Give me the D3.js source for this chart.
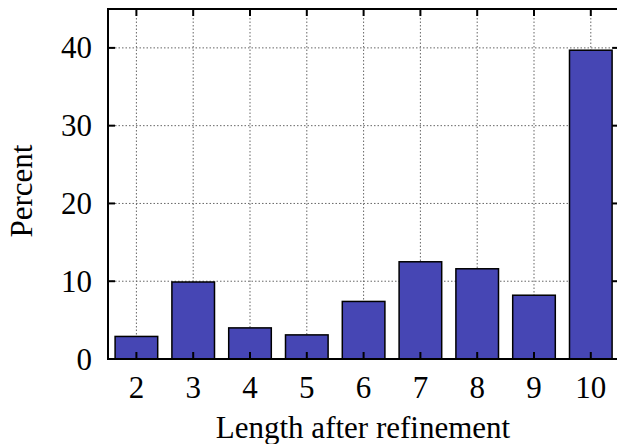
<!DOCTYPE html>
<html>
<head>
<meta charset="utf-8">
<script src="https://cdn.jsdelivr.net/npm/d3@7"></script>
<style>
  body { margin: 0; background: #fff; }
  svg text { font-family: "Liberation Serif", "DejaVu Serif", serif; fill: #000; }
</style>
</head>
<body>
<div id="chart"></div>
<script>
// values
const lengths = [2, 3, 4, 5, 6, 7, 8, 9, 10];
const percents = [2.9, 9.9, 4.0, 3.1, 7.4, 12.5, 11.6, 8.2, 39.7];
const yTicks = [0, 10, 20, 30, 40];

const W = 617, H = 444;
// frame runs past the right edge of the picture, like the original
const margin = { top: 9, left: 108, bottom: 85 };

const svg = d3.select('#chart').append('svg')
  .attr('width', W)
  .attr('height', H);

const x = d3.scaleLinear().domain([1.5, 10.5]).range([margin.left, margin.left + 9 * 56.8]);
const y = d3.scaleLinear().domain([0, 45]).range([H - margin.bottom, margin.top]);

const x0 = x.range()[0], x1 = x.range()[1];
const y0 = y.range()[0], y1 = y.range()[1];

// dotted grid
const grid = svg.append('g').attr('stroke', '#666').attr('stroke-width', 1)
  .attr('stroke-dasharray', '1.5,2');
grid.selectAll('.gx').data(lengths).join('line')
  .attr('x1', d => x(d)).attr('x2', d => x(d))
  .attr('y1', y0).attr('y2', y1);
grid.selectAll('.gy').data(yTicks.slice(1)).join('line')
  .attr('x1', x0).attr('x2', x1)
  .attr('y1', d => y(d)).attr('y2', d => y(d));

// bars
const bw = (x(1) - x(0)) * 0.75;
svg.append('g').selectAll('rect').data(lengths).join('rect')
  .attr('x', (d, i) => x(d) - bw / 2)
  .attr('width', bw)
  .attr('y', (d, i) => y(percents[i]))
  .attr('height', (d, i) => y(0) - y(percents[i]))
  .attr('fill', '#4646b4')
  .attr('stroke', '#000')
  .attr('stroke-width', 1.5);

// frame + inward ticks
const frame = svg.append('g').attr('stroke', '#000').attr('stroke-width', 2).attr('fill', 'none');
frame.append('rect').attr('x', x0).attr('y', y1).attr('width', x1 - x0).attr('height', y0 - y1);
const tl = 7;
frame.selectAll('.tyl').data(yTicks).join('line')
  .attr('x1', x0).attr('x2', x0 + tl).attr('y1', d => y(d)).attr('y2', d => y(d));
frame.selectAll('.tyr').data(yTicks).join('line')
  .attr('x1', x1).attr('x2', x1 - tl).attr('y1', d => y(d)).attr('y2', d => y(d));
frame.selectAll('.txb').data(lengths).join('line')
  .attr('x1', d => x(d)).attr('x2', d => x(d)).attr('y1', y0).attr('y2', y0 - tl);
frame.selectAll('.txt').data(lengths).join('line')
  .attr('x1', d => x(d)).attr('x2', d => x(d)).attr('y1', y1).attr('y2', y1 + tl);

// tick labels
const fs = 31;
svg.append('g').selectAll('text').data(yTicks).join('text')
  .attr('x', x0 - 16).attr('y', d => y(d))
  .attr('dy', '0.34em')
  .attr('text-anchor', 'end')
  .attr('font-size', fs)
  .text(d => d);

svg.append('g').selectAll('text').data(lengths).join('text')
  .attr('x', d => x(d)).attr('y', y0 + 39)
  .attr('text-anchor', 'middle')
  .attr('font-size', fs)
  .text(d => d);

// axis titles
svg.append('text')
  .attr('x', 363).attr('y', 438)
  .attr('text-anchor', 'middle')
  .attr('font-size', fs)
  .text('Length after refinement');

svg.append('text')
  .attr('transform', 'translate(32,191) rotate(-90)')
  .attr('text-anchor', 'middle')
  .attr('font-size', fs)
  .text('Percent');
</script>
</body>
</html>
